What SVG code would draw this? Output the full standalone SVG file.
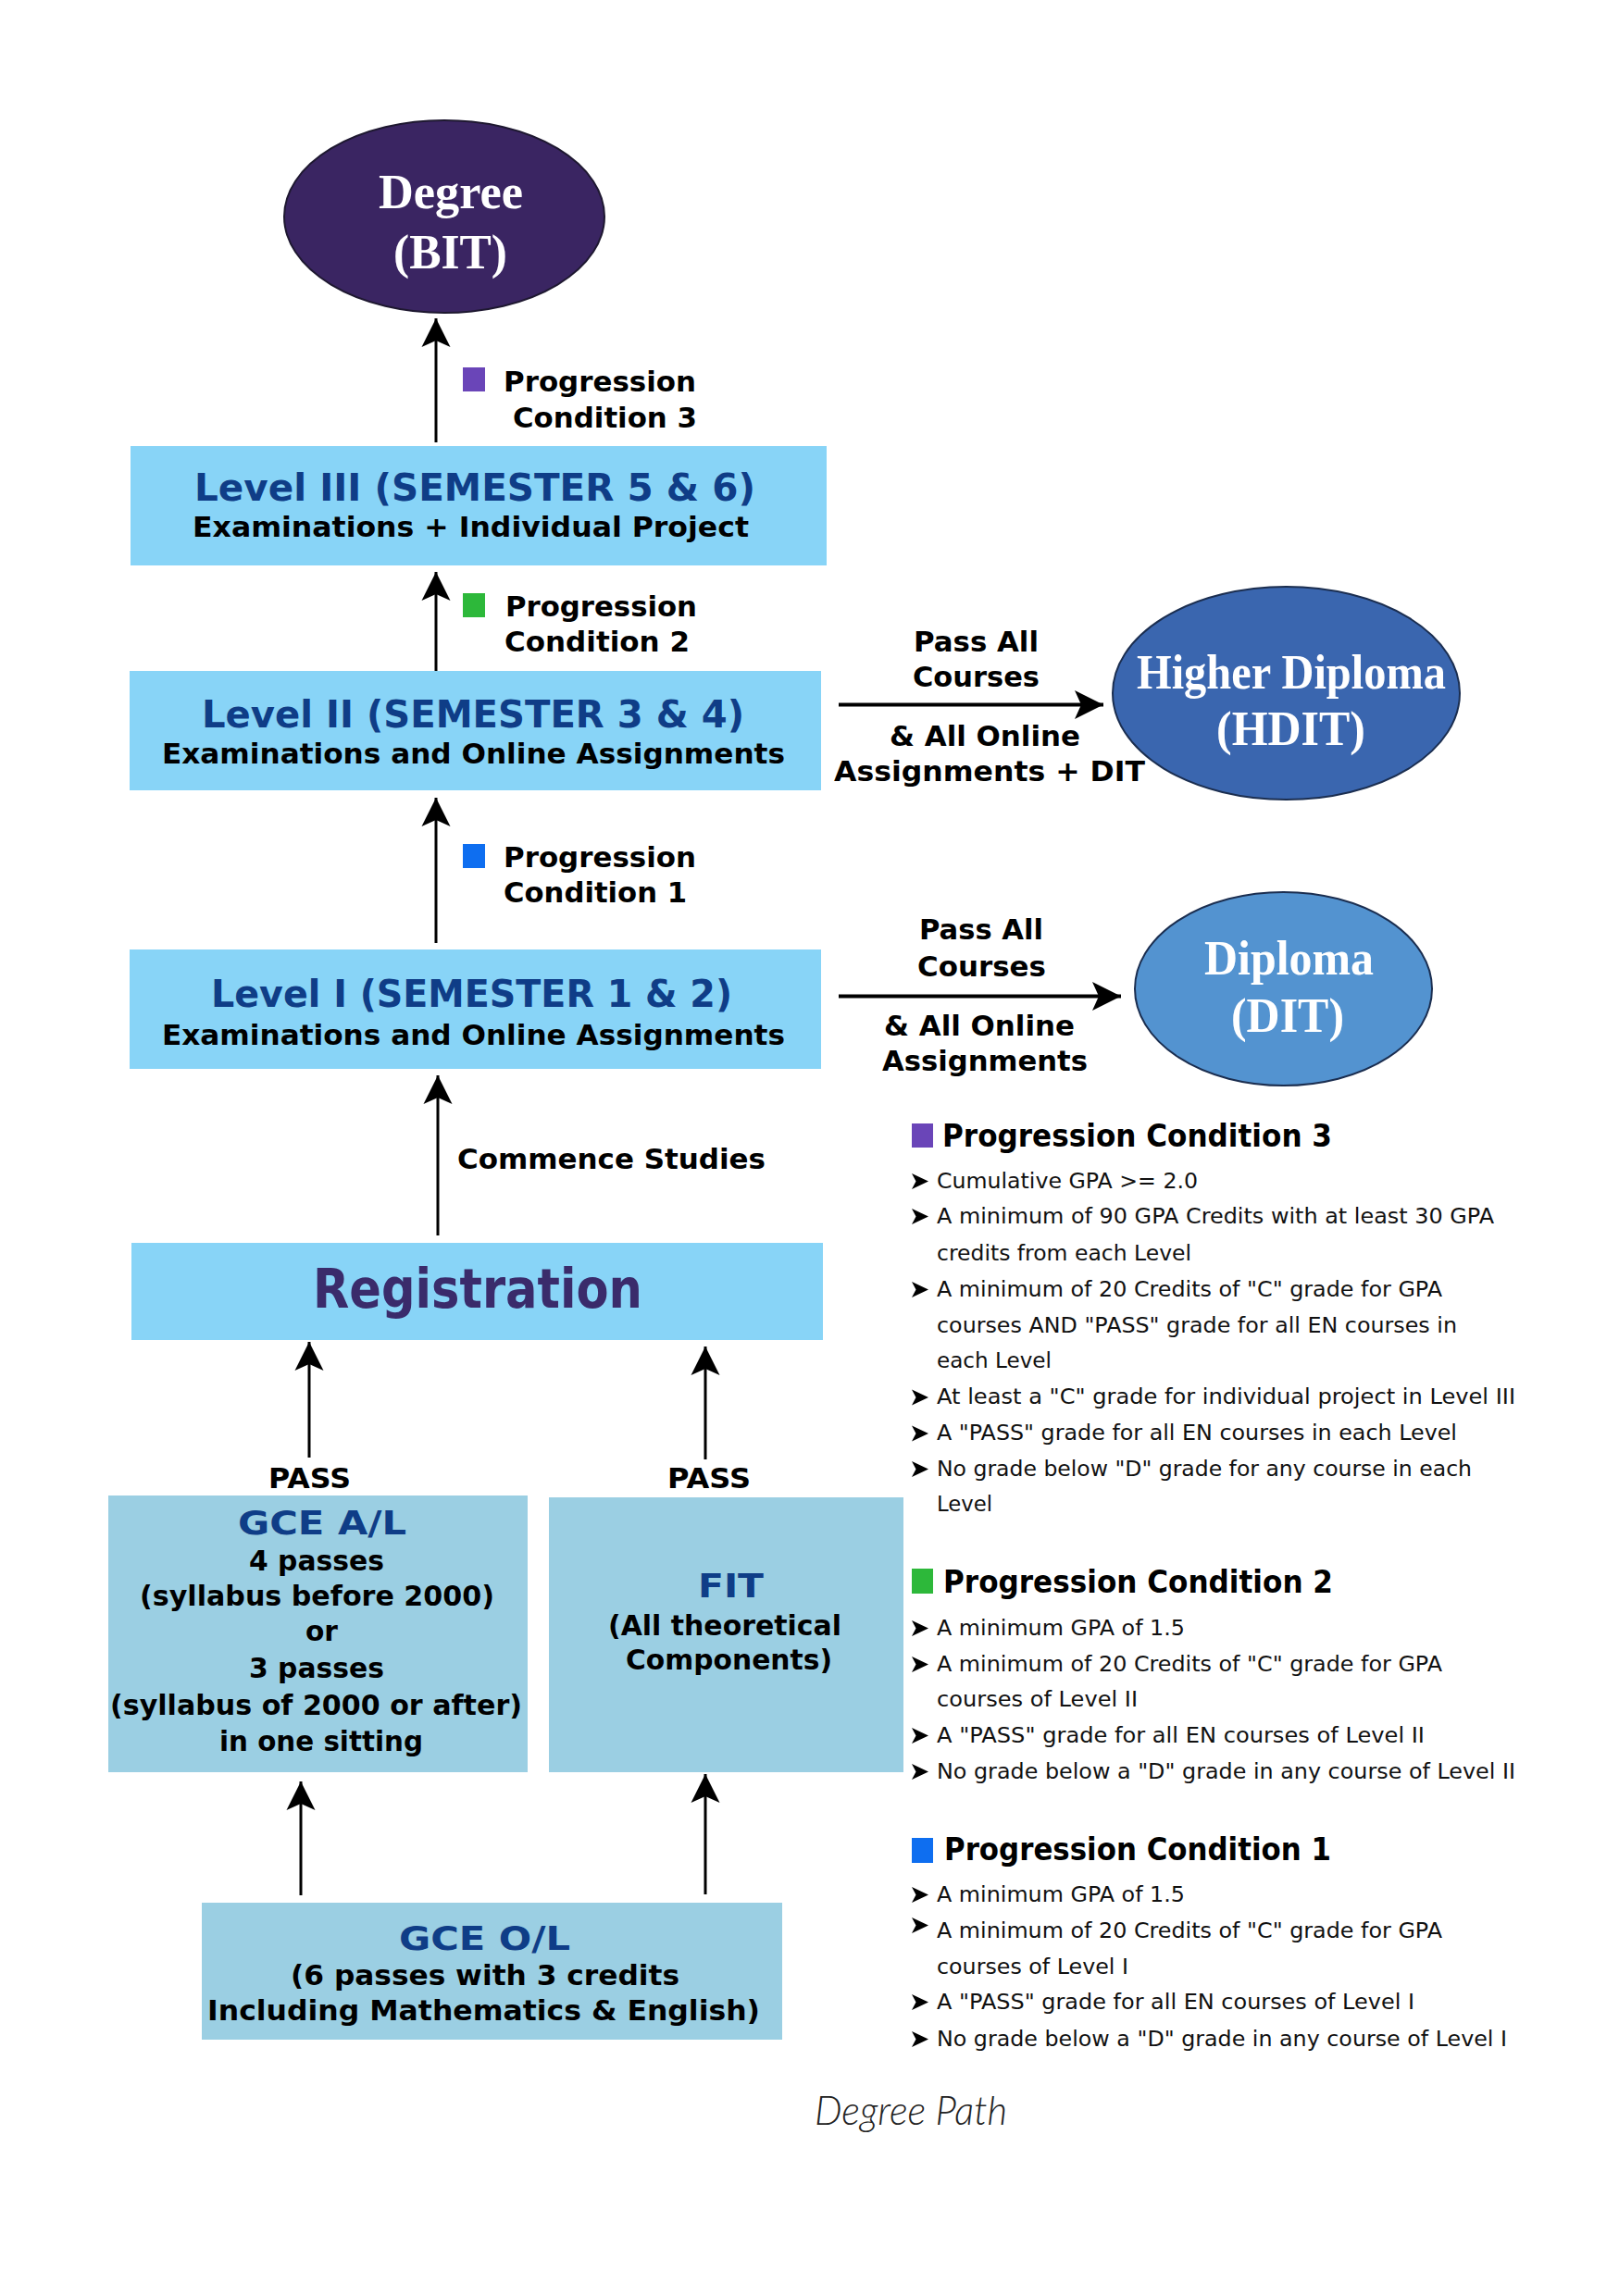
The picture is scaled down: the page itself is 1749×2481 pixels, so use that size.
<svg xmlns="http://www.w3.org/2000/svg" xmlns:xlink="http://www.w3.org/1999/xlink" width="1749" height="2481" viewBox="0 0 1749 2481">
<style>
.lbl{font-family:"DejaVu Sans","Liberation Sans",sans-serif;font-weight:bold;font-size:31px;fill:#000}
.ttl{font-family:"DejaVu Sans","Liberation Sans",sans-serif;font-weight:bold;font-size:40px;fill:#0F3D87}
.sub{font-family:"DejaVu Sans","Liberation Sans",sans-serif;font-weight:bold;font-size:30px;fill:#000}
.gce{font-family:"DejaVu Sans","Liberation Sans",sans-serif;font-weight:bold;font-size:36px;fill:#0F3D87}
.ell{font-family:"Liberation Serif","Times New Roman",serif;font-weight:bold;font-size:52px;fill:#fff}
.head{font-family:"DejaVu Sans","Liberation Sans",sans-serif;font-weight:bold;font-size:33px;fill:#000}
.item{font-family:"DejaVu Sans","Liberation Sans",sans-serif;font-size:23px;fill:#111}
.lvl{fill:#88D4F7}
.entry{fill:#9BCFE3}
.conn line{stroke:#000;stroke-width:3;fill:none}
.conn line.h{stroke-width:4}
</style>
<defs>
<marker id="ah" markerUnits="userSpaceOnUse" markerWidth="34" markerHeight="34" viewBox="-32 -17 34 34" refX="0" refY="0" orient="auto">
<path d="M0,0 L-31,-15.5 L-24,0 L-31,15.5 Z" fill="#000"/>
</marker>
<path id="bul" d="M0,-8.5 L18,0 L0,8.5 L4.5,0 Z" fill="#000"/>
</defs>
<rect width="1749" height="2481" fill="#fff"/>

<g id="degree">
<ellipse cx="480" cy="234" rx="173" ry="104" fill="#3A2562" stroke="#1E1830" stroke-width="2"/>
<text class="ell" x="409" y="225" textLength="156" lengthAdjust="spacingAndGlyphs">Degree</text>
<text class="ell" x="425" y="290" textLength="123" lengthAdjust="spacingAndGlyphs">(BIT)</text>
</g>

<g id="hdit">
<ellipse cx="1389.5" cy="749" rx="187.5" ry="115" fill="#3A66AF" stroke="#1B2E50" stroke-width="2"/>
<text class="ell" x="1228" y="744" textLength="334" lengthAdjust="spacingAndGlyphs">Higher Diploma</text>
<text class="ell" x="1314" y="805" textLength="161" lengthAdjust="spacingAndGlyphs">(HDIT)</text>
</g>

<g id="dit">
<ellipse cx="1386.5" cy="1068.5" rx="160.5" ry="104.5" fill="#5393D0" stroke="#1B2E50" stroke-width="2"/>
<text class="ell" x="1301" y="1053" textLength="183" lengthAdjust="spacingAndGlyphs">Diploma</text>
<text class="ell" x="1330" y="1115" textLength="122" lengthAdjust="spacingAndGlyphs">(DIT)</text>
</g>

<g id="level3">
<rect class="lvl" x="141" y="482" width="752" height="129"/>
<text class="ttl" x="210" y="541" textLength="606" lengthAdjust="spacingAndGlyphs">Level III (SEMESTER 5 &amp; 6)</text>
<text class="sub" x="208" y="580" textLength="601" lengthAdjust="spacingAndGlyphs">Examinations + Individual Project</text>
</g>

<g id="level2">
<rect class="lvl" x="140" y="725" width="747" height="129"/>
<text class="ttl" x="218" y="786" textLength="586" lengthAdjust="spacingAndGlyphs">Level II (SEMESTER 3 &amp; 4)</text>
<text class="sub" x="175" y="825" textLength="673" lengthAdjust="spacingAndGlyphs">Examinations and Online Assignments</text>
</g>

<g id="level1">
<rect class="lvl" x="140" y="1026" width="747" height="129"/>
<text class="ttl" x="228" y="1088" textLength="563" lengthAdjust="spacingAndGlyphs">Level I (SEMESTER 1 &amp; 2)</text>
<text class="sub" x="175" y="1129" textLength="673" lengthAdjust="spacingAndGlyphs">Examinations and Online Assignments</text>
</g>

<g id="registration">
<rect class="lvl" x="142" y="1343" width="747" height="105"/>
<text class="ttl" x="338" y="1413" style="font-size:58px;fill:#3A2B6B" textLength="356" lengthAdjust="spacingAndGlyphs">Registration</text>
</g>

<g id="gceal">
<rect class="entry" x="117" y="1616" width="453" height="299"/>
<text class="gce" x="257" y="1658" textLength="182" lengthAdjust="spacingAndGlyphs">GCE A/L</text>
<text class="lbl" x="269" y="1697" textLength="146" lengthAdjust="spacingAndGlyphs">4 passes</text>
<text class="lbl" x="151" y="1735" textLength="383" lengthAdjust="spacingAndGlyphs">(syllabus before 2000)</text>
<text class="lbl" x="330" y="1773" textLength="35" lengthAdjust="spacingAndGlyphs">or</text>
<text class="lbl" x="269" y="1813" textLength="146" lengthAdjust="spacingAndGlyphs">3 passes</text>
<text class="lbl" x="119" y="1853" textLength="445" lengthAdjust="spacingAndGlyphs">(syllabus of 2000 or after)</text>
<text class="lbl" x="237" y="1892" textLength="220" lengthAdjust="spacingAndGlyphs">in one sitting</text>
</g>

<g id="fit">
<rect class="entry" x="593" y="1618" width="383" height="297"/>
<text class="gce" x="754" y="1726" textLength="71" lengthAdjust="spacingAndGlyphs">FIT</text>
<text class="lbl" x="657" y="1767" textLength="252" lengthAdjust="spacingAndGlyphs">(All theoretical</text>
<text class="lbl" x="676" y="1804" textLength="223" lengthAdjust="spacingAndGlyphs">Components)</text>
</g>

<g id="gceol">
<rect class="entry" x="218" y="2056" width="627" height="148"/>
<text class="gce" x="431" y="2107" textLength="185" lengthAdjust="spacingAndGlyphs">GCE O/L</text>
<text class="lbl" x="314" y="2145" textLength="420" lengthAdjust="spacingAndGlyphs">(6 passes with 3 credits</text>
<text class="lbl" x="224" y="2183" textLength="597" lengthAdjust="spacingAndGlyphs">Including Mathematics &amp; English)</text>
</g>

<g id="connectors" class="conn">
<line x1="471" y1="478" x2="471" y2="344" marker-end="url(#ah)"/>
<line x1="471" y1="725" x2="471" y2="618" marker-end="url(#ah)"/>
<line x1="471" y1="1019" x2="471" y2="862" marker-end="url(#ah)"/>
<line x1="473" y1="1335" x2="473" y2="1162" marker-end="url(#ah)"/>
<line x1="334" y1="1575" x2="334" y2="1450" marker-end="url(#ah)"/>
<line x1="762" y1="1577" x2="762" y2="1455" marker-end="url(#ah)"/>
<line x1="325" y1="2048" x2="325" y2="1925" marker-end="url(#ah)"/>
<line x1="762" y1="2047" x2="762" y2="1917" marker-end="url(#ah)"/>
<line class="h" x1="906" y1="761.5" x2="1192" y2="761.5" marker-end="url(#ah)"/>
<line class="h" x1="906" y1="1076.5" x2="1211" y2="1076.5" marker-end="url(#ah)"/>
</g>

<g id="edge-labels">
<rect x="500" y="397" width="24" height="26" fill="#6A45B8"/>
<text class="lbl" x="544" y="423" textLength="208" lengthAdjust="spacingAndGlyphs">Progression</text>
<text class="lbl" x="554" y="462" textLength="199" lengthAdjust="spacingAndGlyphs">Condition 3</text>
<rect x="500" y="641" width="24" height="26" fill="#2DB83A"/>
<text class="lbl" x="546" y="666" textLength="207" lengthAdjust="spacingAndGlyphs">Progression</text>
<text class="lbl" x="545" y="704" textLength="200" lengthAdjust="spacingAndGlyphs">Condition 2</text>
<rect x="500" y="912" width="24" height="26" fill="#0E6EF0"/>
<text class="lbl" x="544" y="937" textLength="208" lengthAdjust="spacingAndGlyphs">Progression</text>
<text class="lbl" x="544" y="975" textLength="198" lengthAdjust="spacingAndGlyphs">Condition 1</text>
<text class="lbl" x="494" y="1263" textLength="333" lengthAdjust="spacingAndGlyphs">Commence Studies</text>
<text class="lbl" x="290" y="1608" textLength="89" lengthAdjust="spacingAndGlyphs">PASS</text>
<text class="lbl" x="721" y="1608" textLength="90" lengthAdjust="spacingAndGlyphs">PASS</text>
<text class="lbl" x="987" y="704" textLength="135" lengthAdjust="spacingAndGlyphs">Pass All</text>
<text class="lbl" x="986" y="742" textLength="137" lengthAdjust="spacingAndGlyphs">Courses</text>
<text class="lbl" x="961" y="806" textLength="206" lengthAdjust="spacingAndGlyphs">&amp; All Online</text>
<text class="lbl" x="901" y="844" textLength="336" lengthAdjust="spacingAndGlyphs">Assignments + DIT</text>
<text class="lbl" x="993" y="1015" textLength="134" lengthAdjust="spacingAndGlyphs">Pass All</text>
<text class="lbl" x="991" y="1055" textLength="139" lengthAdjust="spacingAndGlyphs">Courses</text>
<text class="lbl" x="955" y="1119" textLength="206" lengthAdjust="spacingAndGlyphs">&amp; All Online</text>
<text class="lbl" x="953" y="1157" textLength="222" lengthAdjust="spacingAndGlyphs">Assignments</text>
</g>

<g id="pc3">
<rect x="985" y="1214" width="23" height="26" fill="#6A45B8"/>
<text class="head" x="1018" y="1239" textLength="421" lengthAdjust="spacingAndGlyphs">Progression Condition 3</text>
<use xlink:href="#bul" x="985" y="1276.5"/>
<text class="item" x="1012" y="1284" textLength="282" lengthAdjust="spacingAndGlyphs">Cumulative GPA &gt;= 2.0</text>
<use xlink:href="#bul" x="985" y="1314.5"/>
<text class="item" x="1012" y="1322" textLength="602" lengthAdjust="spacingAndGlyphs">A minimum of 90 GPA Credits with at least 30 GPA</text>
<text class="item" x="1012" y="1362" textLength="275" lengthAdjust="spacingAndGlyphs">credits from each Level</text>
<use xlink:href="#bul" x="985" y="1393.5"/>
<text class="item" x="1012" y="1401" textLength="546" lengthAdjust="spacingAndGlyphs">A minimum of 20 Credits of "C" grade for GPA</text>
<text class="item" x="1012" y="1440" textLength="562" lengthAdjust="spacingAndGlyphs">courses AND "PASS" grade for all EN courses in</text>
<text class="item" x="1012" y="1478" textLength="124" lengthAdjust="spacingAndGlyphs">each Level</text>
<use xlink:href="#bul" x="985" y="1510"/>
<text class="item" x="1012" y="1517" textLength="625" lengthAdjust="spacingAndGlyphs">At least a "C" grade for individual project in Level III</text>
<use xlink:href="#bul" x="985" y="1549"/>
<text class="item" x="1012" y="1556" textLength="562" lengthAdjust="spacingAndGlyphs">A "PASS" grade for all EN courses in each Level</text>
<use xlink:href="#bul" x="985" y="1587.5"/>
<text class="item" x="1012" y="1595" textLength="578" lengthAdjust="spacingAndGlyphs">No grade below "D" grade for any course in each</text>
<text class="item" x="1012" y="1633" textLength="60" lengthAdjust="spacingAndGlyphs">Level</text>
</g>

<g id="pc2">
<rect x="985" y="1695" width="23" height="27" fill="#2DB83A"/>
<text class="head" x="1019" y="1721" textLength="421" lengthAdjust="spacingAndGlyphs">Progression Condition 2</text>
<use xlink:href="#bul" x="985" y="1759.5"/>
<text class="item" x="1012" y="1767" textLength="268" lengthAdjust="spacingAndGlyphs">A minimum GPA of 1.5</text>
<use xlink:href="#bul" x="985" y="1798.5"/>
<text class="item" x="1012" y="1806" textLength="546" lengthAdjust="spacingAndGlyphs">A minimum of 20 Credits of "C" grade for GPA</text>
<text class="item" x="1012" y="1844" textLength="217" lengthAdjust="spacingAndGlyphs">courses of Level II</text>
<use xlink:href="#bul" x="985" y="1875.5"/>
<text class="item" x="1012" y="1883" textLength="527" lengthAdjust="spacingAndGlyphs">A "PASS" grade for all EN courses of Level II</text>
<use xlink:href="#bul" x="985" y="1914.5"/>
<text class="item" x="1012" y="1922" textLength="625" lengthAdjust="spacingAndGlyphs">No grade below a "D" grade in any course of Level II</text>
</g>

<g id="pc1">
<rect x="985" y="1986" width="23" height="27" fill="#0E6EF0"/>
<text class="head" x="1020" y="2010" textLength="418" lengthAdjust="spacingAndGlyphs">Progression Condition 1</text>
<use xlink:href="#bul" x="985" y="2047.5"/>
<text class="item" x="1012" y="2055" textLength="268" lengthAdjust="spacingAndGlyphs">A minimum GPA of 1.5</text>
<use xlink:href="#bul" x="985" y="2080.5"/>
<text class="item" x="1012" y="2094" textLength="546" lengthAdjust="spacingAndGlyphs">A minimum of 20 Credits of "C" grade for GPA</text>
<text class="item" x="1012" y="2133" textLength="207" lengthAdjust="spacingAndGlyphs">courses of Level I</text>
<use xlink:href="#bul" x="985" y="2163.5"/>
<text class="item" x="1012" y="2171" textLength="516" lengthAdjust="spacingAndGlyphs">A "PASS" grade for all EN courses of Level I</text>
<use xlink:href="#bul" x="985" y="2203.5"/>
<text class="item" x="1012" y="2211" textLength="616" lengthAdjust="spacingAndGlyphs">No grade below a "D" grade in any course of Level I</text>
</g>

<g id="caption">
<text x="880" y="2296" font-family="Lato,'Open Sans','DejaVu Sans',sans-serif" font-weight="300" font-style="italic" font-size="44" fill="#222" textLength="208" lengthAdjust="spacingAndGlyphs">Degree Path</text>
</g>
</svg>
